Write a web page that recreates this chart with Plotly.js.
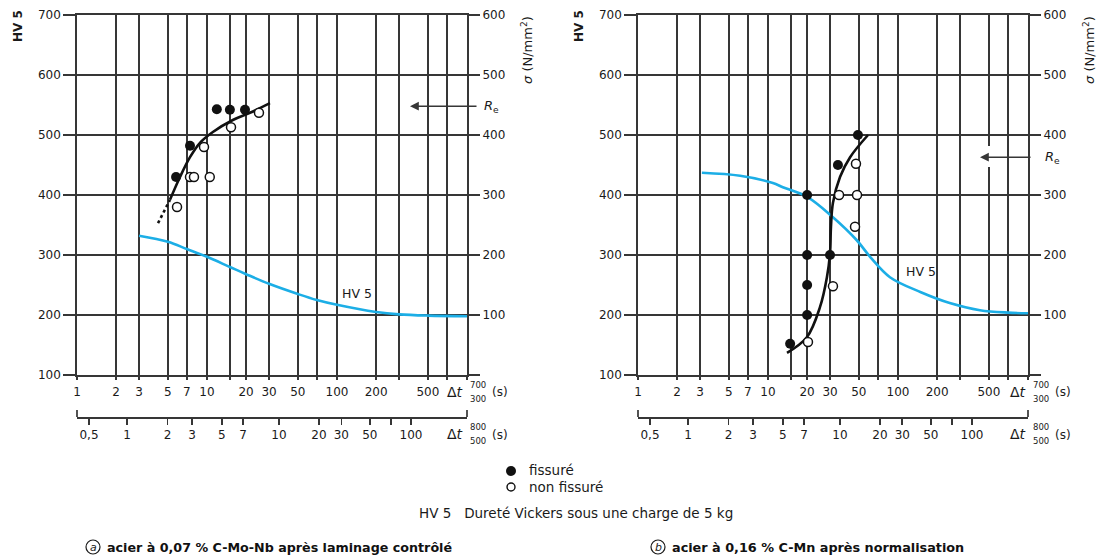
<!DOCTYPE html>
<html><head><meta charset="utf-8">
<script src="https://cdn.plot.ly/plotly-3.0.1.min.js"></script>
<style>html,body{margin:0;padding:0;background:#fff}</style>
</head><body>
<div id="chart" style="width:1098px;height:558px"></div>
<script>
// ---------- data ----------
const xTickVals = [1,2,3,5,7,10,15,20,30,50,70,100,200,300,500,700,1000];
const xTickText = ['1','2','3','5','7','10','','20','30','50','','100','200','','500','',''];
// Δt 800/500 scale: labels and their equivalent Δt 700/300 values
const secTickEquiv = [1.237,2.424,4.97,7.67,13.0,18.9,35.8,72.7,108,179,260,371];
const secTickText = ['0,5','1','2','3','5','7','10','20','30','50','','100'];
const hvTicks = [100,200,300,400,500,600,700];
const sigmaTicks = [0,100,200,300,400,500,600];
const sigmaTickText = ['','100','200','300','400','500','600'];

// chart (a)
const a_hvX = [3,5,7,10,15,20,30,50,70,100,200,300,500,1000];
const a_hvY = [332,322,310,297,280,268,252,235,225,217,205,201,199,198];
const a_fitX = [5.19,6.2,7.4,8.83,11.1,15.8,21.4,30.5];
const a_fitY = [392,430,463,487,505,525,537,553];
const a_dotX = [4.2,5.19];
const a_dotY = [353,392];
const a_crackX = [5.78,7.4,11.9,15.0,19.6];
const a_crackY = [430,482,543,542,542];
const a_okX = [5.88,7.4,7.94,10.5,9.48,15.3,25.1];
const a_okY = [380,430,430,430,480,513,537];
const a_Re = 448;

// chart (b)
const b_hvX = [3.1,6.1,10.9,13,20,31.6,48,61,86.7,150,250,427,700,1000];
const b_hvY = [437,432,420,413,397,363,325,297,263,238,220,208,204,203];
const b_fitX = [14.0,19.9,25.1,28.4,30.0,30.5,31.6,35.8,42.8,58.8];
const b_fitY = [137,163,213,263,303,347,387,430,463,500];
const b_crackX = [49.2,34.5,20,20,30,20,20,14.8];
const b_crackY = [500,450,400,300,300,250,200,152];
const b_okX = [47.5,35.2,48.4,46.7,31.6,20.3];
const b_okY = [452,400,400,347,248,155];
const b_Re = 363;

// ---------- styling ----------
const W = 1098, H = 558;
const BLUE = '#1caee6';
const GRID = '#363636';
const INK = '#1a1a1a';
const FONT = 'DejaVu Sans, Liberation Sans, Arial, sans-serif';
const px = v => v / W, py = v => 1 - v / H;

function curve(x, y, xa, ya, color, dash) {
  return {x, y, xaxis: xa, yaxis: ya, type: 'scatter', mode: 'lines', hoverinfo: 'skip',
    line: {color, width: 2.6, shape: 'spline', smoothing: 1, dash: dash || 'solid'}};
}
function pts(x, y, xa, ya, filled) {
  return {x, y, xaxis: xa, yaxis: ya, type: 'scatter', mode: 'markers', hoverinfo: 'skip',
    marker: {size: filled ? 10 : 9, color: filled ? '#111' : '#fff', line: {color: '#111', width: filled ? 0 : 1.5}}};
}

const traces = [
  curve(a_hvX, a_hvY, 'x', 'y', BLUE),
  curve(a_fitX, a_fitY, 'x', 'y', '#111'),
  curve(a_dotX, a_dotY, 'x', 'y', '#111', 'dot'),
  pts(a_okX, a_okY, 'x', 'y', false),
  pts(a_crackX, a_crackY, 'x', 'y', true),
  curve(b_hvX, b_hvY, 'x2', 'y3', BLUE),
  curve(b_fitX, b_fitY, 'x2', 'y3', '#111'),
  pts(b_okX, b_okY, 'x2', 'y3', false),
  pts(b_crackX, b_crackY, 'x2', 'y3', true),
  {x: [], y: [], xaxis: 'x3', yaxis: 'y', type: 'scatter'},
  {x: [], y: [], xaxis: 'x4', yaxis: 'y3', type: 'scatter'},
  {x: [], y: [], xaxis: 'x', yaxis: 'y2', type: 'scatter'},
  {x: [], y: [], xaxis: 'x2', yaxis: 'y4', type: 'scatter'}
];

const tickfont = {family: FONT, size: 12, color: INK};
const yDom = [py(375), py(15)];
function mainX(dom, anchor) {
  return {type: 'log', range: [0, 3], domain: dom, anchor, tickvals: xTickVals, ticktext: xTickText,
    showgrid: true, gridcolor: GRID, gridwidth: 1.7, showline: true, mirror: true, linecolor: GRID, linewidth: 1.7,
    ticks: 'outside', ticklen: 3, tickwidth: 1.7, tickcolor: GRID, tickfont, zeroline: false, fixedrange: true,
    ticklabelstandoff: 2};
}
function secX(over) {
  return {type: 'log', range: [0, 3], overlaying: over, anchor: 'free', position: py(417), side: 'bottom',
    tickvals: secTickEquiv, ticktext: secTickText, showgrid: false, showline: true, linecolor: GRID, linewidth: 1.7,
    ticks: 'outside', ticklen: 6, tickwidth: 1.7, tickcolor: GRID, tickfont, zeroline: false, fixedrange: true};
}
function hvY(anchor) {
  return {range: [100, 700], domain: yDom, anchor, tickvals: hvTicks, showgrid: true, gridcolor: GRID, gridwidth: 1.7,
    showline: true, mirror: true, linecolor: GRID, linewidth: 1.7, ticks: 'outside', ticklen: 12, tickwidth: 1.7,
    tickcolor: GRID, tickfont, zeroline: false, fixedrange: true};
}
function sigY(over, anchor) {
  return {range: [0, 600], overlaying: over, anchor, side: 'right', tickvals: sigmaTicks, ticktext: sigmaTickText,
    showgrid: false, showline: false, ticks: 'outside', ticklen: 12, tickwidth: 1.7, tickcolor: GRID, tickfont,
    zeroline: false, fixedrange: true};
}

function ann(text, x, y, o) {
  return Object.assign({text, xref: 'paper', yref: 'paper', x: px(x), y: py(y), showarrow: false,
    xanchor: 'center', yanchor: 'middle', font: {family: FONT, size: 12, color: INK}}, o || {});
}
const f = (size, color) => ({family: FONT, size, color: color || INK});

const annotations = [];
// axis titles
[[18, 26], [579, 26]].forEach(([x, y]) => annotations.push(ann('<b>HV 5</b>', x, y, {textangle: -90, font: f(12)})));
[[527, 50], [1089, 50]].forEach(([x, y]) => annotations.push(ann('<i>σ</i> (N/mm<sup>2</sup>)', x, y, {textangle: -90, font: f(13)})));
// Δt labels
[[0], [563]].forEach(([dx]) => {
  annotations.push(ann('Δ<i>t</i>', 455 + dx, 392, {font: f(14)}));
  annotations.push(ann('700', 478 + dx, 385, {font: f(8.5)}));
  annotations.push(ann('300', 478 + dx, 399, {font: f(8.5)}));
  annotations.push(ann('(s)', 500 + dx, 392, {font: f(12)}));
  annotations.push(ann('Δ<i>t</i>', 455 + dx, 434, {font: f(14)}));
  annotations.push(ann('800', 478 + dx, 427, {font: f(8.5)}));
  annotations.push(ann('500', 478 + dx, 441, {font: f(8.5)}));
  annotations.push(ann('(s)', 500 + dx, 435, {font: f(12)}));
});
// R_e arrows and labels
annotations.push({text: '', xref: 'paper', yref: 'y2', x: px(410), y: a_Re, showarrow: true, ax: 68, ay: 0,
  arrowhead: 2, arrowsize: 1.1, arrowwidth: 1.6, arrowcolor: GRID});
annotations.push({text: '<i>R</i><sub>e</sub>', xref: 'paper', yref: 'y2', x: px(482), y: a_Re, showarrow: false,
  xanchor: 'left', yanchor: 'middle', font: f(13)});
annotations.push({text: '', xref: 'paper', yref: 'y4', x: px(980), y: b_Re, showarrow: true, ax: 52, ay: 0,
  arrowhead: 2, arrowsize: 1.1, arrowwidth: 1.6, arrowcolor: GRID});
annotations.push({text: '<i>R</i><sub>e</sub>', xref: 'paper', yref: 'y4', x: px(1043), y: b_Re, showarrow: false,
  xanchor: 'left', yanchor: 'middle', font: f(13)});
// curve labels
annotations.push(ann('HV 5', 357, 293, {font: f(12.5)}));
annotations.push(ann('HV 5', 921, 272, {font: f(12.5)}));
// legend + note
annotations.push(ann('fissuré', 527, 470, {xanchor: 'left', font: f(13.5)}));
annotations.push(ann('non fissuré', 527, 487, {xanchor: 'left', font: f(13.5)}));
annotations.push(ann('HV 5   Dureté Vickers sous une charge de 5 kg', 576, 513, {font: f(13.5)}));
// captions
annotations.push(ann('<i>a</i>', 93, 547, {font: f(11)}));
annotations.push(ann('<b>acier à 0,07 % C-Mo-Nb après laminage contrôlé</b>', 105, 547, {xanchor: 'left', font: f(12.7, '#111')}));
annotations.push(ann('<i>b</i>', 658, 547, {font: f(11)}));
annotations.push(ann('<b>acier à 0,16 % C-Mn après normalisation</b>', 670, 547, {xanchor: 'left', font: f(12.8, '#111')}));

const lineSh = (x0, y0, x1, y1, color, width) => ({type: 'line', xref: 'paper', yref: 'paper', layer: 'above',
  x0: px(x0), y0: py(y0), x1: px(x1), y1: py(y1), line: {color, width}});
const shapes = [
  lineSh(77, 410, 77, 417, GRID, 1.7), lineSh(467, 410, 467, 417, GRID, 1.7),
  lineSh(638, 410, 638, 417, GRID, 1.7), lineSh(1028, 410, 1028, 417, GRID, 1.7),
  lineSh(989, 146, 989, 167, '#fff', 4),
  {type: 'circle', xref: 'paper', yref: 'paper', x0: px(86), x1: px(100), y0: py(540), y1: py(554), line: {color: INK, width: 1.2}},
  {type: 'circle', xref: 'paper', yref: 'paper', x0: px(651), x1: px(665), y0: py(540), y1: py(554), line: {color: INK, width: 1.2}},
  {type: 'circle', xref: 'paper', yref: 'paper', x0: px(506), x1: px(516), y0: py(466), y1: py(476), fillcolor: '#111', line: {color: '#111', width: 0}},
  {type: 'circle', xref: 'paper', yref: 'paper', x0: px(507), x1: px(515), y0: py(483), y1: py(491), fillcolor: '#fff', line: {color: '#111', width: 1.4}}
];

const layout = {
  width: W, height: H, margin: {l: 0, r: 0, t: 0, b: 0}, showlegend: false,
  paper_bgcolor: '#fff', plot_bgcolor: '#fff', font: {family: FONT},
  xaxis: mainX([px(77), px(467)], 'y'),
  xaxis2: mainX([px(638), px(1028)], 'y3'),
  xaxis3: secX('x'),
  xaxis4: secX('x2'),
  yaxis: hvY('x'),
  yaxis2: sigY('y', 'x'),
  yaxis3: hvY('x2'),
  yaxis4: sigY('y3', 'x2'),
  annotations, shapes
};

Plotly.newPlot('chart', traces, layout, {staticPlot: true, displayModeBar: false});
</script>
</body></html>
